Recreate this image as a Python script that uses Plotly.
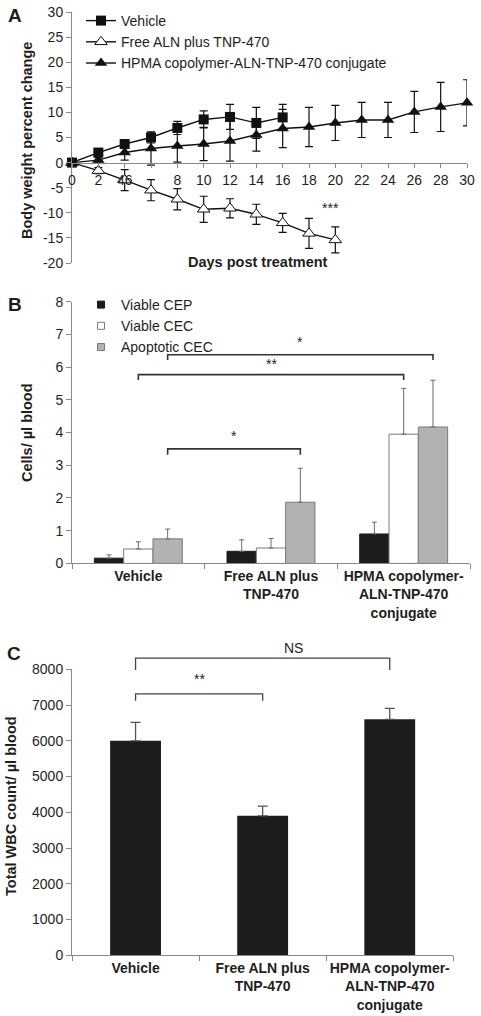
import plotly.graph_objects as go

W, H = 481, 1016
FONT = "Liberation Sans, Arial, Helvetica, sans-serif"
TXT = "#1e1e1e"
AXC = "#8a8a8a"

# ---------------- Panel A data: body weight % change ----------------
vehicle_days = [0, 2, 4, 6, 8, 10, 12, 14, 16]
vehicle_mean = [0, 2.0, 3.7, 5.0, 6.9, 8.6, 9.1, 7.9, 9.0]
vehicle_err = [0, 0.4, 0.5, 1.1, 1.3, 1.7, 2.5, 3.1, 2.6]

free_days = [0, 2, 4, 6, 8, 10, 12, 14, 16, 18, 20]
free_mean = [0, -1.6, -3.5, -5.5, -7.3, -9.3, -9.1, -10.3, -12.0, -14.1, -15.4]
free_err = [0, 0.6, 2.1, 2.1, 2.1, 2.6, 1.9, 2.0, 1.9, 3.0, 2.6]

hpma_days = [0, 2, 4, 6, 8, 10, 12, 14, 16, 18, 20, 22, 24, 26, 28, 30]
hpma_mean = [0, 0.5, 2.0, 2.8, 3.3, 3.7, 4.3, 5.5, 6.8, 7.1, 7.9, 8.5, 8.5, 10.1, 11.1, 11.9]
hpma_err = [0, 0.6, 1.5, 3.3, 3.2, 3.3, 4.0, 3.2, 3.8, 3.9, 3.5, 3.5, 3.5, 4.1, 4.9, 4.6]

a_xticks = [0, 2, 4, 6, 8, 10, 12, 14, 16, 18, 20, 22, 24, 26, 28, 30]
a_xticktext = ["0", "2", "46", "", "8", "10", "12", "14", "16", "18", "20", "22", "24", "26", "28", "30"]
a_yticks = [-20, -15, -10, -5, 0, 5, 10, 15, 20, 25, 30]

# ---------------- Panel B data: cells / ul blood ----------------
groups = ["Vehicle", "Free ALN plus<br>TNP-470", "HPMA copolymer-<br>ALN-TNP-470<br>conjugate"]
cep_mean = [0.16, 0.37, 0.90]
cep_err = [0.10, 0.35, 0.36]
cec_mean = [0.44, 0.47, 3.95]
cec_err = [0.22, 0.29, 1.40]
apo_mean = [0.75, 1.87, 4.17]
apo_err = [0.30, 1.04, 1.43]
b_yticks = [0, 1, 2, 3, 4, 5, 6, 7, 8]

# ---------------- Panel C data: total WBC ----------------
wbc_mean = [6000, 3900, 6600]
wbc_err = [515, 275, 305]
c_yticks = [0, 1000, 2000, 3000, 4000, 5000, 6000, 7000, 8000]


def fx(p):
    return p / W


def fy(p):
    return 1 - p / H


A_X = [72, 467]
A_Y = [12, 263]
B_X = [72, 470]
B_Y = [301.7, 563.4]
C_X = [72, 453.3]
C_Y = [669.3, 955.3]

fig = go.Figure()

# Panel A traces (drawn HPMA first so squares sit on top)
err_style = dict(type="data", color="#111", thickness=1.2, width=4)
fig.add_trace(go.Scatter(
    x=hpma_days, y=hpma_mean, name="HPMA copolymer-ALN-TNP-470 conjugate",
    mode="lines+markers", legendrank=3, cliponaxis=False,
    line=dict(color="#111", width=1.4),
    marker=dict(symbol="triangle-up", size=11, color="#111"),
    error_y=dict(array=hpma_err, **err_style), xaxis="x", yaxis="y", legend="legend"))
fig.add_trace(go.Scatter(
    x=free_days, y=free_mean, name="Free ALN plus TNP-470",
    mode="lines+markers", legendrank=2, cliponaxis=False,
    line=dict(color="#111", width=1.4),
    marker=dict(symbol="triangle-up", size=11, color="white", line=dict(color="#111", width=1)),
    error_y=dict(array=free_err, **err_style), xaxis="x", yaxis="y", legend="legend"))
fig.add_trace(go.Scatter(
    x=vehicle_days, y=vehicle_mean, name="Vehicle",
    mode="lines+markers", legendrank=1, cliponaxis=False,
    line=dict(color="#111", width=1.4),
    marker=dict(symbol="square", size=10, color="#111"),
    error_y=dict(array=vehicle_err, **err_style), xaxis="x", yaxis="y", legend="legend"))

# Panel B bars
b_series = [
    ("Viable CEP", cep_mean, cep_err, "#1c1c1c", "#1c1c1c"),
    ("Viable CEC", cec_mean, cec_err, "#ffffff", "#7a7a7a"),
    ("Apoptotic CEC", apo_mean, apo_err, "#b2b2b2", "#7a7a7a"),
]
for name, vals, errs, fill, edge in b_series:
    fig.add_trace(go.Bar(
        x=groups, y=vals, name=name, showlegend=False,
        marker=dict(color=fill, line=dict(color=edge, width=1)),
        error_y=dict(type="data", symmetric=False, array=errs, arrayminus=[0] * len(errs),
                     color="#6a6a6a", thickness=1, width=2.5),
        xaxis="x2", yaxis="y2"))
    # legend entry with small square
    fig.add_trace(go.Scatter(
        x=[None], y=[None], mode="markers", name=name, legend="legend2",
        marker=dict(symbol="square", size=7, color=fill, line=dict(color=edge, width=1)),
        xaxis="x2", yaxis="y2"))

# Panel C bars
fig.add_trace(go.Bar(
    x=groups, y=wbc_mean, name="Total WBC", showlegend=False, width=0.4,
    marker=dict(color="#1c1c1c", line=dict(width=0)),
    error_y=dict(type="data", symmetric=False, array=wbc_err, arrayminus=[0] * len(wbc_err),
                 color="#555", thickness=1.3, width=5),
    xaxis="x3", yaxis="y3"))

tickfont = dict(family=FONT, size=14, color=TXT)
boldtick = dict(family=FONT, size=14, color=TXT, weight="bold")

a_ymin, a_ymax = -20, 30
a_xpos = fy(A_Y[1]) + (0 - a_ymin) / (a_ymax - a_ymin) * (fy(A_Y[0]) - fy(A_Y[1]))

common = dict(showgrid=False, zeroline=False, automargin=False, showline=True, linecolor=AXC,
              linewidth=1, ticks="outside", tickcolor=AXC)

fig.update_layout(
    width=W, height=H, margin=dict(l=0, r=0, t=0, b=0, autoexpand=False),
    paper_bgcolor="white", plot_bgcolor="white",
    font=dict(family=FONT, size=14, color=TXT),
    barmode="group", bargap=0.337, bargroupgap=0,
    xaxis=dict(domain=[fx(A_X[0]), fx(A_X[1])], range=[0, 30], anchor="free", position=a_xpos,
               tickvals=a_xticks, ticktext=a_xticktext, ticklen=4,
               tickfont=tickfont, ticklabelstandoff=1, tickangle=0, **common),
    yaxis=dict(domain=[fy(A_Y[1]), fy(A_Y[0])], range=[a_ymin, a_ymax], anchor="x",
               tickvals=a_yticks, ticktext=[str(v) for v in a_yticks],
               ticklen=5, tickfont=tickfont, **common),
    xaxis2=dict(domain=[fx(B_X[0]), fx(B_X[1])], anchor="y2", type="category", range=[-0.5, 2.5],
                tickson="boundaries", ticklen=5, tickangle=0, tickfont=boldtick, **common),
    yaxis2=dict(domain=[fy(B_Y[1]), fy(B_Y[0])], anchor="x2", range=[0, 8], tickvals=b_yticks,
                ticklen=5, tickfont=tickfont, **common),
    xaxis3=dict(domain=[fx(C_X[0]), fx(C_X[1])], anchor="y3", type="category", range=[-0.5, 2.5],
                tickson="boundaries", ticklen=5, tickangle=0, tickfont=boldtick, **common),
    yaxis3=dict(domain=[fy(C_Y[1]), fy(C_Y[0])], anchor="x3", range=[0, 8000], tickvals=c_yticks,
                ticktext=[str(v) for v in c_yticks], ticklen=5, tickfont=tickfont, **common),
    legend=dict(x=fx(81), y=fy(5), xanchor="left", yanchor="top", bgcolor="rgba(0,0,0,0)",
                font=dict(family=FONT, size=14, color=TXT), tracegroupgap=0),
    legend2=dict(x=fx(81), y=fy(289), xanchor="left", yanchor="top", bgcolor="rgba(0,0,0,0)",
                 font=dict(family=FONT, size=14, color=TXT), tracegroupgap=0),
)

annotations = []


def title(text, xp, yp, size=14.5, angle=0):
    annotations.append(dict(text="<b>%s</b>" % text, x=fx(xp), y=fy(yp), xref="paper", yref="paper",
                            showarrow=False, textangle=angle, xanchor="center", yanchor="middle",
                            font=dict(family=FONT, size=size, color=TXT)))


title("A", 15, 16, size=19)
title("B", 15, 304, size=19)
title("C", 14, 653, size=19)
title("Body weight percent change", 27, 141, angle=-90)
title("Days post treatment", 258, 262)
title("Cells/ µl blood", 27, 433, angle=-90)
title("Total WBC count/ µl blood", 11, 806, angle=-90)

# significance in panel A
annotations.append(dict(text="***", x=19.6, y=-9.1, xref="x", yref="y", showarrow=False,
                        font=dict(family=FONT, size=14, color=TXT)))

# panel B brackets: (group_a, bar_a, group_b, bar_b, y, drop, label, label_shift)
bw = (1 - 0.337) / 3
b_brackets = [
    (0, 2, 2, 2, 6.38, 0.16, "*", 3),
    (0, 1, 2, 1, 5.77, 0.16, "**", 1),
    (0, 2, 1, 2, 3.50, 0.18, "*", 3),
]
shapes = []
for ga, ba, gb, bb, yv, drop, lab, shift in b_brackets:
    xa = ga + (ba - 1) * bw
    xb = gb + (bb - 1) * bw
    shapes.append(dict(type="path", xref="x2", yref="y2",
                       path="M %f,%f L %f,%f L %f,%f L %f,%f" % (xa, yv - drop, xa, yv, xb, yv, xb, yv - drop),
                       line=dict(color="#333", width=1.6)))
    annotations.append(dict(text=lab, x=(xa + xb) / 2, y=yv, xref="x2", yref="y2", showarrow=False,
                            yanchor="bottom", yshift=shift, font=dict(family=FONT, size=14, color=TXT)))

# panel C brackets (in y3 domain fraction so they can sit above the axis top)
c_max = 8000
c_brackets = [
    (0, 2, 8310, 330, "NS", 1.24, 0),
    (0, 1, 7310, 190, "**", 0.5, 5),
]
for ga, gb, yv, drop, lab, lx, shift in c_brackets:
    shapes.append(dict(type="path", xref="x3", yref="y3 domain",
                       path="M %f,%f L %f,%f L %f,%f L %f,%f" % (
                           ga, (yv - drop) / c_max, ga, yv / c_max, gb, yv / c_max, gb, (yv - drop) / c_max),
                       line=dict(color="#444", width=1.3)))
    annotations.append(dict(text=lab, x=lx, y=yv / c_max, xref="x3", yref="y3 domain", showarrow=False,
                            yanchor="bottom", yshift=shift, font=dict(family=FONT, size=14, color=TXT)))

fig.update_layout(annotations=annotations, shapes=shapes)

fig.write_html("out.html", config={"displayModeBar": False},
               post_script="document.body.style.margin='0';document.body.style.overflow='hidden';")
